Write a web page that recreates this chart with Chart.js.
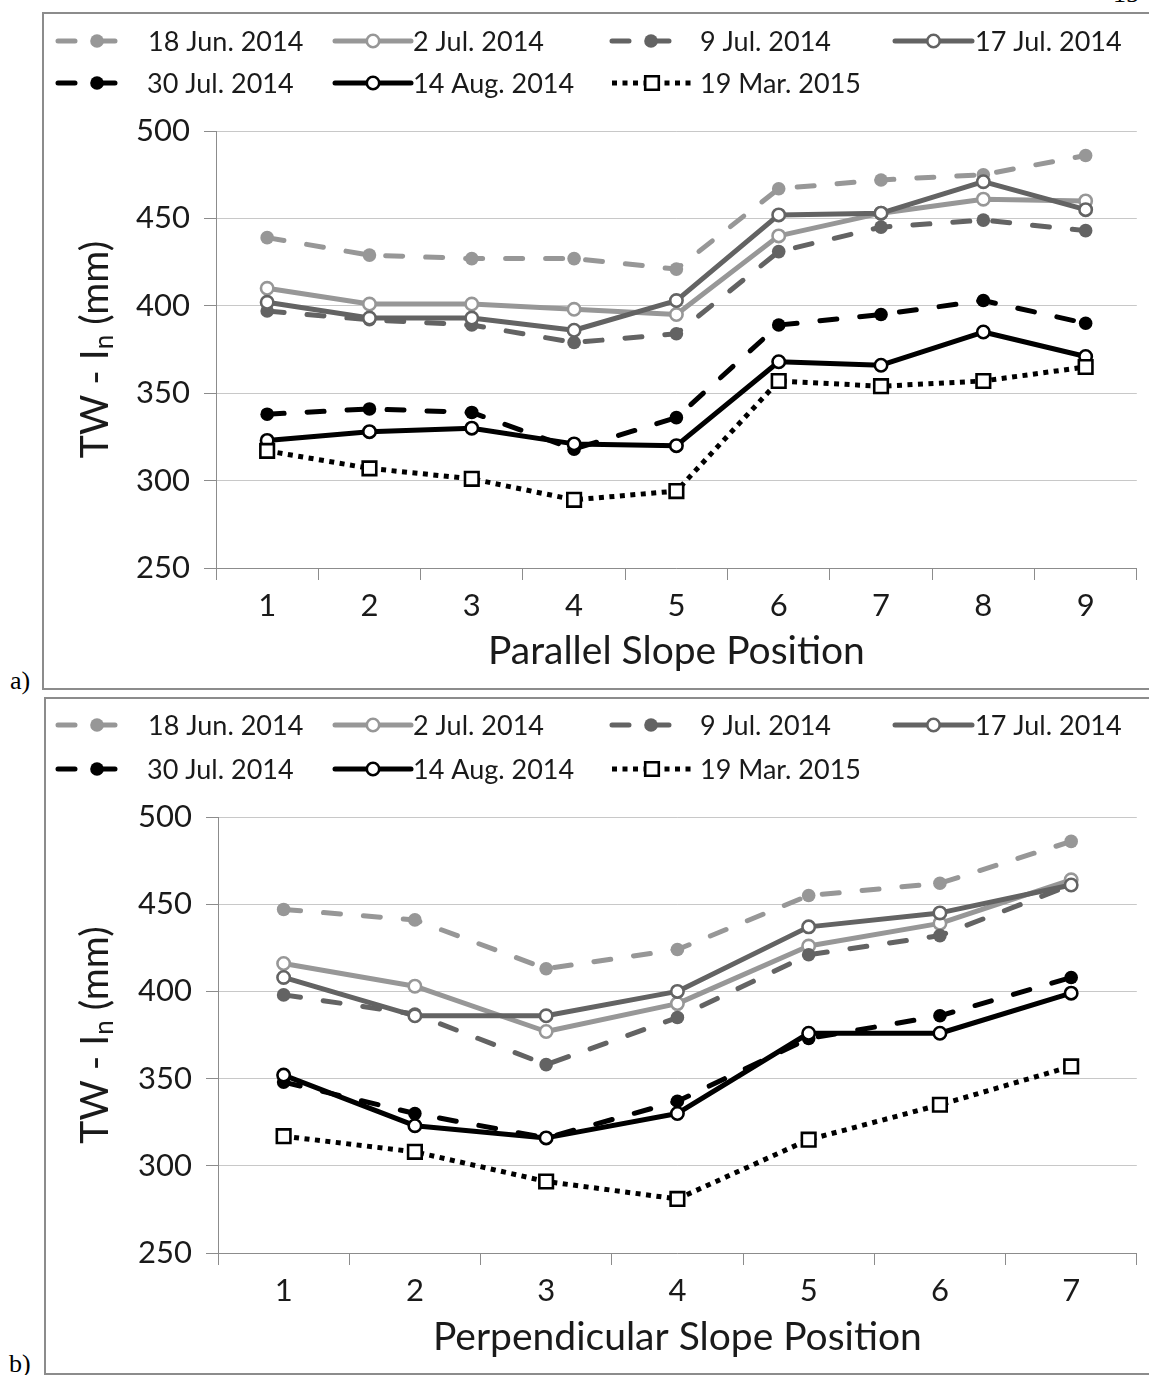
<!DOCTYPE html>
<html>
<head>
<meta charset="utf-8">
<script src="https://cdn.jsdelivr.net/npm/chart.js@4.4.0/dist/chart.umd.min.js"></script>
<style>
  html, body { margin: 0; padding: 0; background: #fff; }
  body { width: 1149px; height: 1375px; overflow: hidden; position: relative; }
  .frame { position: absolute; border: 2px solid #8c8c8c; box-sizing: border-box; }
  .cv { position: absolute; left: 0; }
  .tag { position: absolute; font-family: "Liberation Serif", "DejaVu Serif", serif; font-size: 26px; line-height: 26px; color: #000; }
</style>
</head>
<body>
<div class="tag" style="left:1113px; top:-19px;">15</div>
<div class="frame" style="left:42px; top:12px; width:1140px; height:678px;"></div>
<div class="frame" style="left:44px; top:697px; width:1140px; height:678px;"></div>
<div class="tag" style="left:10px; top:668px;">a)</div>
<div class="tag" style="left:9px; top:1351px;">b)</div>
<canvas id="chartA" class="cv" width="1149" height="676" style="top:13px;"></canvas>
<canvas id="chartB" class="cv" width="1149" height="677" style="top:698px;"></canvas>

<script>
// Measurement dates (legend entries)
const seriesNames = ['18 Jun. 2014', '2 Jul. 2014', '9 Jul. 2014', '17 Jul. 2014',
                     '30 Jul. 2014', '14 Aug. 2014', '19 Mar. 2015'];

// a) parallel slope positions
const parallelPositions = ['1', '2', '3', '4', '5', '6', '7', '8', '9'];
const jun18Parallel = [439, 429, 427, 427, 421, 467, 472, 475, 486];
const jul2Parallel  = [410, 401, 401, 398, 395, 440, 453, 461, 460];
const jul9Parallel  = [397, 392, 389, 379, 384, 431, 445, 449, 443];
const jul17Parallel = [402, 393, 393, 386, 403, 452, 453, 471, 455];
const jul30Parallel = [338, 341, 339, 318, 336, 389, 395, 403, 390];
const aug14Parallel = [323, 328, 330, 321, 320, 368, 366, 385, 371];
const mar19Parallel = [317, 307, 301, 289, 294, 357, 354, 357, 365];

// b) perpendicular slope positions
const perpendicularPositions = ['1', '2', '3', '4', '5', '6', '7'];
const jun18Perp = [447, 441, 413, 424, 455, 462, 486];
const jul2Perp  = [416, 403, 377, 393, 426, 439, 464];
const jul9Perp  = [398, 387, 358, 385, 421, 432, 461];
const jul17Perp = [408, 386, 386, 400, 437, 445, 461];
const jul30Perp = [348, 330, 316, 337, 373, 386, 408];
const aug14Perp = [352, 323, 316, 330, 376, 376, 399];
const mar19Perp = [317, 308, 291, 281, 315, 335, 357];

// y axis range and step (mm)
const yMin = 250, yMax = 500, yStep = 50;

const TEXT = '#1a1a1a';
const AXIS = '#8c8c8c';
const GRID = '#c8c8c8';
const LIGHT = '#979797';
const MID = '#636363';
const DASH = [17, 23];
const DOT = [5, 5.5];

const styles = [
  { color: LIGHT, dash: DASH, cap: 'round', marker: 'circle', fill: LIGHT, r: 6.8, bw: 0 },
  { color: LIGHT, dash: [], cap: 'round', marker: 'circle', fill: '#fff', r: 6.2, bw: 2.6 },
  { color: MID, dash: DASH, cap: 'round', marker: 'circle', fill: MID, r: 6.8, bw: 0 },
  { color: MID, dash: [], cap: 'round', marker: 'circle', fill: '#fff', r: 6.2, bw: 2.6 },
  { color: '#000', dash: DASH, cap: 'round', marker: 'circle', fill: '#000', r: 6.8, bw: 0 },
  { color: '#000', dash: [], cap: 'round', marker: 'circle', fill: '#fff', r: 6.2, bw: 2.6 },
  { color: '#000', dash: DOT, cap: 'butt', marker: 'rect', fill: '#fff', r: 9.6, bw: 2.6 }
];

// legend layout: [sample start, sample end, text x, row]
const legendSlots = [
  [58, 136, 148, 0], [335, 411, 413, 0], [612, 690, 700, 0], [895, 972, 975, 0],
  [58, 136, 147, 1], [335, 411, 413, 1], [612, 692, 700, 1]
];

const legendPlugin = {
  id: 'slopeLegend',
  afterDraw(chart, args, opts) {
    const ctx = chart.ctx;
    chart.data.datasets.forEach((ds, i) => {
      const [x0, x1, tx, row] = legendSlots[i];
      const y = opts.rows[row];
      const st = styles[i];
      ctx.save();
      ctx.strokeStyle = ds.borderColor;
      ctx.lineWidth = ds.borderWidth;
      ctx.lineCap = st.cap;
      ctx.setLineDash(ds.borderDash);
      ctx.beginPath();
      ctx.moveTo(x0, y);
      ctx.lineTo(x1, y);
      ctx.stroke();
      ctx.setLineDash([]);
      const cx = (x0 + x1) / 2;
      ctx.fillStyle = ds.pointBackgroundColor;
      ctx.strokeStyle = ds.pointBorderColor;
      ctx.lineWidth = ds.pointBorderWidth;
      ctx.beginPath();
      if (ds.pointStyle === 'rect') {
        const h = ds.pointRadius * Math.SQRT1_2;
        ctx.rect(cx - h, y - h, 2 * h, 2 * h);
      } else {
        ctx.arc(cx, y, ds.pointRadius, 0, Math.PI * 2);
      }
      ctx.fill();
      if (ds.pointBorderWidth > 0) ctx.stroke();
      ctx.fillStyle = TEXT;
      ctx.font = '27px Lato';
      ctx.textAlign = 'left';
      ctx.textBaseline = 'middle';
      ctx.fillText(ds.label, tx, y + 1);
      ctx.restore();
    });
  }
};

const yTitlePlugin = {
  id: 'yTitle',
  afterDraw(chart, args, opts) {
    const { ctx, chartArea } = chart;
    const cy = (chartArea.top + chartArea.bottom) / 2;
    ctx.save();
    ctx.translate(opts.x, cy);
    ctx.rotate(-Math.PI / 2);
    ctx.fillStyle = TEXT;
    ctx.textBaseline = 'middle';
    ctx.textAlign = 'left';
    const parts = [
      { t: 'TW - I', f: '39px Lato', dy: 0 },
      { t: 'n', f: '26px Lato', dy: 10 },
      { t: ' (mm)', f: '39px Lato', dy: 0 }
    ];
    let total = 0;
    parts.forEach(p => { ctx.font = p.f; p.w = ctx.measureText(p.t).width; total += p.w; });
    let x = -total / 2;
    parts.forEach(p => { ctx.font = p.f; ctx.fillText(p.t, x, p.dy); x += p.w; });
    ctx.restore();
  }
};

function buildChart(id, labels, seriesList, axisTitle, geom) {
  const datasets = seriesList.map((values, i) => {
    const st = styles[i];
    return {
      label: seriesNames[i],
      data: values,
      borderColor: st.color,
      borderWidth: 5,
      borderDash: st.dash,
      borderCapStyle: st.cap,
      borderJoinStyle: 'round',
      tension: 0,
      fill: false,
      pointStyle: st.marker,
      pointRadius: st.r,
      pointHoverRadius: st.r,
      pointBackgroundColor: st.fill,
      pointBorderColor: st.color,
      pointBorderWidth: st.bw,
      order: seriesList.length - i
    };
  });
  return new Chart(document.getElementById(id), {
    type: 'line',
    data: { labels, datasets },
    plugins: [legendPlugin, yTitlePlugin],
    options: {
      responsive: false,
      animation: false,
      devicePixelRatio: 1,
      layout: { padding: { left: 0, right: geom.padRight, top: geom.padTop, bottom: 0 } },
      plugins: {
        legend: { display: false },
        tooltip: { enabled: false },
        slopeLegend: { rows: geom.rows },
        yTitle: { x: 95 }
      },
      scales: {
        x: {
          type: 'category',
          offset: true,
          afterFit: s => { s.height = geom.xHeight; },
          grid: { display: true, drawOnChartArea: false, offset: true, tickLength: 12, tickColor: AXIS, color: AXIS, lineWidth: 1 },
          border: { display: true, color: AXIS, width: 1 },
          ticks: { color: TEXT, font: { family: 'Lato', size: 31 }, padding: 7, maxRotation: 0 },
          title: { display: true, text: axisTitle, color: TEXT, font: { family: 'Lato', size: 39 }, padding: { top: 0, bottom: 14 } }
        },
        y: {
          min: yMin, max: yMax,
          afterFit: s => { s.width = geom.yWidth; },
          grid: { color: GRID, lineWidth: 1, tickLength: 12, tickColor: AXIS, drawTicks: true },
          border: { display: true, color: AXIS, width: 1 },
          ticks: { stepSize: yStep, color: TEXT, font: { family: 'Lato', size: 31 }, padding: 14 }
        }
      }
    }
  });
}

buildChart('chartA', parallelPositions,
  [jun18Parallel, jul2Parallel, jul9Parallel, jul17Parallel, jul30Parallel, aug14Parallel, mar19Parallel],
  'Parallel Slope Position',
  { padTop: 118, padRight: 10, xHeight: 121, yWidth: 216, rows: [28, 70] });

buildChart('chartB', perpendicularPositions,
  [jun18Perp, jul2Perp, jul9Perp, jul17Perp, jul30Perp, aug14Perp, mar19Perp],
  'Perpendicular Slope Position',
  { padTop: 119, padRight: 9, xHeight: 122, yWidth: 218, rows: [27, 71] });
</script>
</body>
</html>
